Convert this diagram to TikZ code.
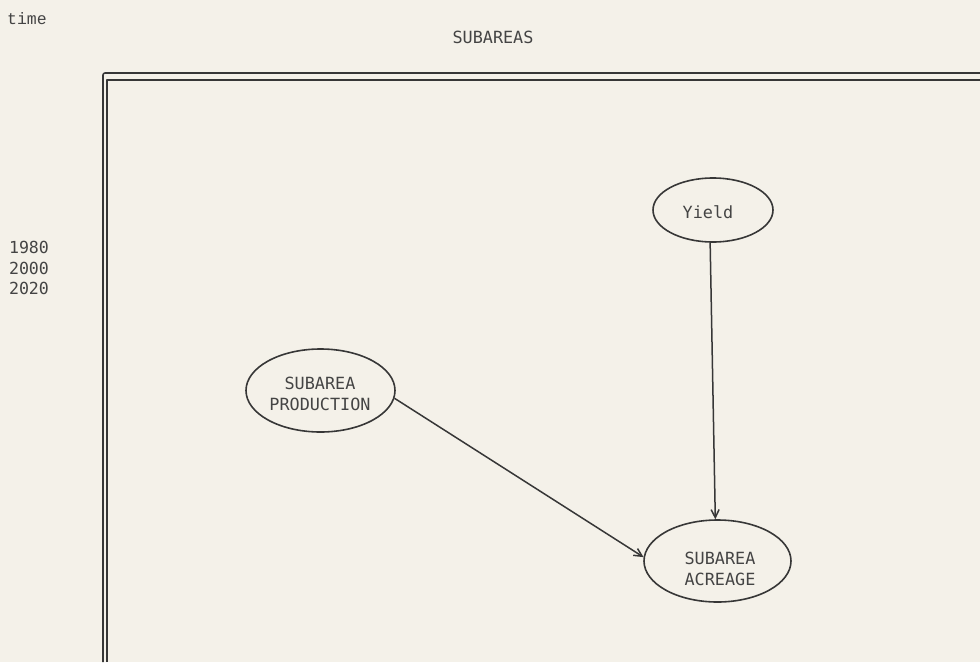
\documentclass[tikz,border=0pt]{standalone}
\usepackage{fontspec}
\newfontfamily\typefont{Liberation Mono}
\newfontfamily\gothfont{DejaVu Sans Mono}
\usetikzlibrary{shapes.geometric,arrows.meta}
\definecolor{paper}{RGB}{244,241,233}
\definecolor{ink}{RGB}{55,55,55}
\definecolor{txt}{RGB}{68,68,68}
\tikzset{
  frameline/.style={draw=ink,line width=1.6pt,line join=round},
  oval/.style={ellipse,draw=ink,line width=1.6pt,inner sep=0pt},
  ovaltext/.style={inner sep=0pt,text=txt,align=center,
    font=\gothfont\fontsize{16.8}{21}\selectfont},
  lab/.style={inner sep=0pt,text=txt},
  yearlab/.style={lab,font=\gothfont\fontsize{16.6}{20}\selectfont},
  conn/.style={draw=ink,line width=1.5pt,-{Straight Barb[length=8pt,width=8pt]}}
}
\begin{document}
\begin{tikzpicture}[x=1pt,y=-1pt]
\fill[paper] (0,0) rectangle (980,662);
\useasboundingbox (0,0) rectangle (980,662);
% double frame
\draw[frameline] (103,662) -- (103,75) to[out=90,in=180] (105,73) -- (980,73);
\draw[frameline] (107,662) -- (107,80) -- (980,80);
% labels
\node[lab,font=\typefont\fontsize{16.5}{20}\selectfont] (time) at (27,19) {time};
\node[lab,font=\gothfont\fontsize{16.8}{20}\selectfont] (title) at (493,37) {SUBAREAS};
\node[yearlab] (y1980) at (29,247) {1980};
\node[yearlab] (y2000) at (29,268) {2000};
\node[yearlab] (y2020) at (29,288) {2020};
% ellipses
\node[oval,minimum width=120pt,minimum height=64pt] (yield) at (713,210) {};
\node[ovaltext] (yieldtext) at (708,212) {Yield};
\node[oval,minimum width=149pt,minimum height=83pt] (prod) at (320.5,390.5) {};
\node[ovaltext] (prodtext) at (320,394) {SUBAREA\\PRODUCTION};
\node[oval,minimum width=147pt,minimum height=82pt] (acre) at (717.5,561) {};
\node[ovaltext] (acretext) at (720,569) {SUBAREA\\ACREAGE};
% connectors
\draw[conn] (yield.-95) -- (acre.93);
\draw[conn] (prod.-6) -- (acre.177);
\end{tikzpicture}
\end{document}
